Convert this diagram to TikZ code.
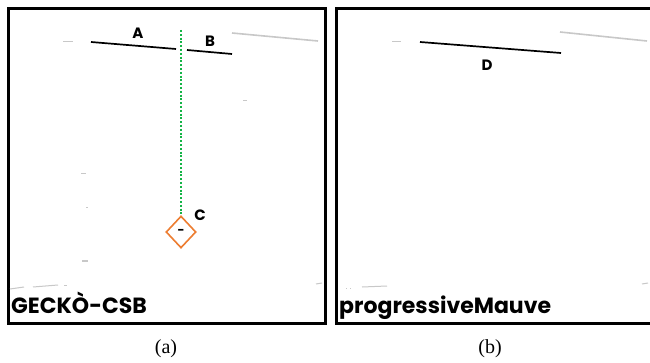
\documentclass[tikz,border=0pt]{standalone}
\usepackage{fontspec}
\setmainfont{Liberation Serif}
\newfontfamily\gfont{Poppins}
\usetikzlibrary{shapes.geometric}
\definecolor{dotgreen}{RGB}{20,180,70}
\definecolor{diaorange}{RGB}{237,125,49}
\definecolor{faint}{RGB}{200,200,200}
\tikzset{
  panel/.style={draw=black, line width=3pt},
  seg/.style={draw=black, line width=1.7pt},
  ghost/.style={draw=faint, line width=1.6pt},
  speck/.style={draw=faint, line width=1pt},
  lbl/.style={font=\gfont\bfseries\fontsize{15}{15}\selectfont, inner sep=0pt},
  title/.style={font=\gfont\bfseries\fontsize{22}{22}\selectfont, inner sep=0pt, anchor=base west},
  captext/.style={font=\fontsize{20}{20}\selectfont, inner sep=0pt},
  diam/.style={diamond, draw=diaorange, line width=1.6pt, minimum width=30pt, minimum height=32pt, inner sep=0pt, font=\gfont\bfseries\fontsize{12}{12}\selectfont},
}
\begin{document}
\begin{tikzpicture}[x=1pt,y=-1pt]
\useasboundingbox (0,0) rectangle (650,363);
\fill[white] (0,0) rectangle (650,363);
% panel (a)
\draw[panel] (8.5,8.5) rectangle (325,323);
% panel (b)
\begin{scope}
\clip (0,0) rectangle (650,363);
\draw[panel] (336,8.5) rectangle (660,323);
\end{scope}

% ---- panel (a) content
\coordinate (a1) at (91,42);
\coordinate (a2) at (176,49);
\coordinate (b1) at (187,50);
\coordinate (b2) at (232,54);
\draw[seg] (a1) -- (a2);
\draw[seg] (b1) -- (b2);
\coordinate (g1) at (232,33);
\coordinate (g2) at (318,41);
\draw[ghost] (g1) -- (g2);
\coordinate (s1) at (63,42); \coordinate (s2) at (73,42);
\draw[speck] (s1) -- (s2);
\coordinate (s3) at (243,101); \coordinate (s4) at (247,101);
\draw[speck] (s3) -- (s4);
\coordinate (s5) at (81,174); \coordinate (s6) at (86,174);
\draw[speck] (s5) -- (s6);
\coordinate (s7) at (86,208); \coordinate (s8) at (88,208);
\draw[speck] (s7) -- (s8);
\coordinate (s9) at (82,261); \coordinate (s10) at (88,261);
\draw[speck] (s9) -- (s10);
\coordinate (s11) at (10,289); \coordinate (s12) at (24,287);
\draw[speck] (s11) -- (s12);
\coordinate (s13) at (33,287); \coordinate (s14) at (58,285);
\draw[speck] (s13) -- (s14);
\coordinate (s15) at (64,285); \coordinate (s16) at (67,285);
\draw[speck] (s15) -- (s16);
\coordinate (s17) at (316,284); \coordinate (s18) at (322,283);
\draw[speck] (s17) -- (s18);

\node[lbl] (la) at (138,33) {A};
\node[lbl] (lb) at (210,41) {B};
\node[diam] (c) at (181,232) {-};
\node[lbl] (lc) at (200,215) {C};
\coordinate (top) at (181,30);
\draw[dotgreen, line width=2pt, dash pattern=on 2pt off 1.8pt] (top) -- (c.north);
\node[title] (ta) at (11,313) {GECKÒ-CSB};
\node[captext] (ca) at (166,349) {(a)};

% ---- panel (b) content
\coordinate (d1) at (420,42);
\coordinate (d2) at (561,53);
\draw[seg] (d1) -- (d2);
\coordinate (h1) at (560,32);
\coordinate (h2) at (647,41);
\draw[ghost] (h1) -- (h2);
\coordinate (t1) at (392,42); \coordinate (t2) at (401,42);
\draw[speck] (t1) -- (t2);
\coordinate (t3) at (346,288); \coordinate (t4) at (347,288);
\draw[speck] (t3) -- (t4);
\coordinate (t5) at (350,288); \coordinate (t6) at (351,288);
\draw[speck] (t5) -- (t6);
\coordinate (t7) at (362,287); \coordinate (t8) at (387,286);
\draw[speck] (t7) -- (t8);
\coordinate (t9) at (642,284); \coordinate (t10) at (648,283);
\draw[speck] (t9) -- (t10);
\node[lbl] (ld) at (487,65) {D};
\node[title] (tb) at (339,313) {progressiveMauve};
\node[captext] (cb) at (490,349) {(b)};
\end{tikzpicture}
\end{document}
